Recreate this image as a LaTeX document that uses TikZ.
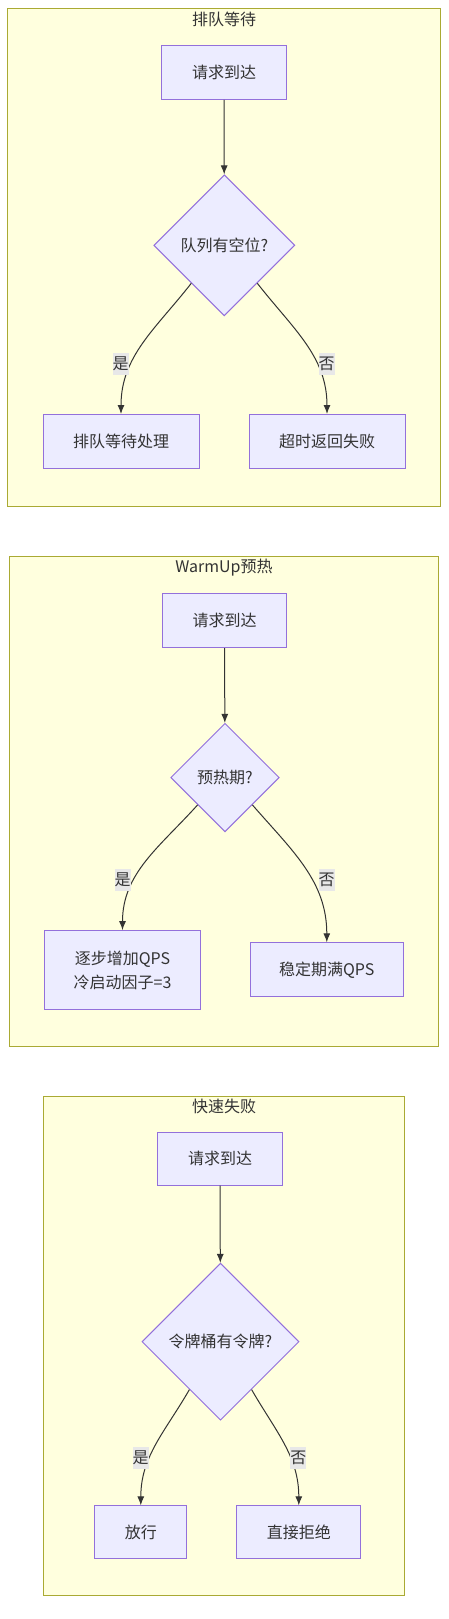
\documentclass[tikz,border=0pt]{standalone}
\usepackage{fontspec}
\setmainfont{Noto Sans CJK SC}
\usetikzlibrary{shapes.geometric,arrows.meta}
\definecolor{clusterfill}{HTML}{FFFFDE}
\definecolor{clusterline}{HTML}{AAAA33}
\definecolor{nodefill}{HTML}{ECECFF}
\definecolor{nodeline}{HTML}{9370DB}
\definecolor{edgecol}{HTML}{333333}
\definecolor{lblfill}{HTML}{E8E8E8}

\begin{document}
\begin{tikzpicture}[x=1pt,y=1pt,>={Latex[length=9pt,width=7pt]},
  font=\fontsize{16}{24}\selectfont, text=edgecol,
  cluster/.style={draw=clusterline, fill=clusterfill, line width=1pt},
  box/.style={draw=nodeline, fill=nodefill, line width=1pt, inner sep=0pt, minimum height=54pt, align=center},
  decision/.style={diamond, aspect=1, draw=nodeline, fill=nodefill, line width=1pt, inner sep=0pt},
  lbl/.style={fill=lblfill, inner sep=0pt, minimum height=22pt, minimum width=16pt},
  flow/.style={->, draw=edgecol, line width=1pt}]
  \useasboundingbox (0,0) rectangle (448,-1619);

  % Clusters
  \draw[cluster] (7.7,-8.3) rectangle (440.7,-506);
  \draw[cluster] (9.3,-556) rectangle (438.3,-1046.7);
  \draw[cluster] (43.3,-1096) rectangle (404.3,-1595);
  \node (T1) at (224,-19.5) {排队等待};
  \node (T2) at (224,-567.5) {WarmUp预热};
  \node (T3) at (224,-1106.7) {快速失败};

  % Nodes: queueing
  \node[box, minimum width=124.3pt] (Req1) at (224,-72.3) {请求到达};
  \node[decision, minimum width=141pt, minimum height=141pt] (Slot) at (224.3,-245.3) {队列有空位?};
  \node[box, minimum width=156pt] (Wait) at (121,-441.5) {排队等待处理};
  \node[box, minimum width=156pt] (Timeout) at (327,-441.5) {超时返回失败};

  % Nodes: warm up
  \node[box, minimum width=124.4pt] (Req2) at (224.5,-620.5) {请求到达};
  \node[decision, minimum width=108.5pt, minimum height=108.5pt] (Warm) at (225,-777.5) {预热期?};
  \node[box, minimum width=155.7pt, minimum height=78.7pt] (Ramp) at (122.5,-970) {逐步增加QPS\\冷启动因子=3};
  \node[box, minimum width=153pt] (Full) at (326.8,-969.8) {稳定期满QPS};

  % Nodes: fail fast
  \node[box, minimum width=124.7pt, minimum height=52.7pt] (Req3) at (220,-1158.7) {请求到达};
  \node[decision, minimum width=157pt, minimum height=157pt] (Token) at (220.5,-1341.7) {令牌桶有令牌?};
  \node[box, minimum width=92pt, minimum height=52.3pt] (Pass) at (140.8,-1532) {放行};
  \node[box, minimum width=124.3pt, minimum height=52.3pt] (Reject) at (298.8,-1532) {直接拒绝};

  % Arrows
  \draw[flow] (Req1) -- (Slot);
  \draw[flow] (Slot.-131) to[out=-128, in=90] (Wait);
  \draw[flow] (Slot.-49) to[out=-52, in=90] (Timeout);
  \draw[flow] (Req2) -- (Warm);
  \draw[flow] (Warm.-135) to[out=-132, in=90] (Ramp);
  \draw[flow] (Warm.-45) to[out=-49, in=90] (Full);
  \draw[flow] (Req3) -- (Token);
  \draw[flow] (Token.-123) to[out=-120, in=90] (Pass);
  \draw[flow] (Token.-57) to[out=-60, in=90] (Reject);

  % Edge labels
  \node[lbl] (Yes1) at (120.7,-364) {是};
  \node[lbl] (No1) at (326.7,-364) {否};
  \node[lbl] (Yes2) at (122.7,-880) {是};
  \node[lbl] (No2) at (326.7,-880) {否};
  \node[lbl] (Yes3) at (140.7,-1457.7) {是};
  \node[lbl] (No3) at (298.3,-1457.7) {否};
\end{tikzpicture}
\end{document}
